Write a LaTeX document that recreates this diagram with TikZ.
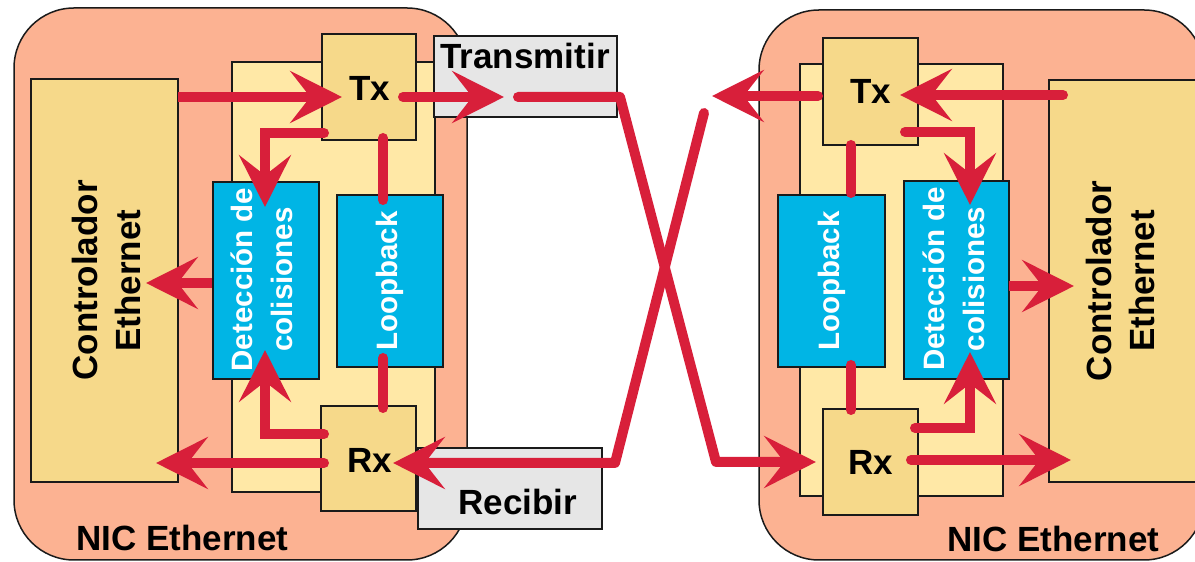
\documentclass[tikz,border=0pt]{standalone}
\usepackage{fontspec}
\setmainfont{Liberation Sans}
\usetikzlibrary{arrows.meta,fit,calc}
\definecolor{nicfill}{HTML}{FCB292}
\definecolor{ctrlfill}{HTML}{F6D98A}
\definecolor{innerfill}{HTML}{FFE8A6}
\definecolor{bluefill}{HTML}{00B5E5}
\definecolor{grayfill}{HTML}{E6E6E6}
\definecolor{myred}{HTML}{D81F3A}
\definecolor{edge}{HTML}{1A1A1A}
\tikzset{
  frame/.style={draw=edge, line width=0.9pt, inner sep=0pt, outer sep=0pt},
  nicbox/.style={frame, fill=nicfill, rounded corners=36pt},
  ctrlbox/.style={frame, fill=ctrlfill},
  innerbox/.style={frame, fill=innerfill},
  blockbox/.style={frame, fill=ctrlfill},
  bluebox/.style={frame, fill=bluefill},
  graybox/.style={frame, fill=grayfill},
  bigtxt/.style={font=\fontsize{21}{26}\selectfont\bfseries, align=center, inner sep=0pt},
  smalltxt/.style={font=\fontsize{17.7}{24}\selectfont\bfseries, text=white, align=center, inner sep=0pt},
  redline/.style={draw=myred, line width=6pt, line cap=round, line join=miter},
  redarr/.style={redline, -{Stealth[length=31pt,width=31pt,inset=12pt]}},
}
\begin{document}
\begin{tikzpicture}[x=0.6pt,y=-0.6pt]
\useasboundingbox (0,0) rectangle (1195,562);
\clip (0,0) rectangle (1195,562);
% NICs
\node[nicbox, fit={(14,8) (467,560)}] (nicL) {};
\node[nicbox, fit={(759,10) (1204,560)}] (nicR) {};
% controllers
\node[ctrlbox, fit={(31,79) (178,482)}] (ctrlL) {};
\node[ctrlbox, fit={(1049,80) (1198,482)}] (ctrlR) {};
% inner boxes
\node[innerbox, fit={(232,62) (435,492)}] (innerL) {};
\node[innerbox, fit={(800,64) (1003,496)}] (innerR) {};
% Tx / Rx
\node[blockbox, fit={(322,34) (416,140)}] (txL) {};
\node[blockbox, fit={(321,406) (416,511)}] (rxL) {};
\node[blockbox, fit={(823,38) (918,145)}] (txR) {};
\node[blockbox, fit={(823,409) (918,515)}] (rxR) {};
% blue blocks
\node[bluebox, fit={(213,182) (319,379)}] (detL) {};
\node[bluebox, fit={(337,195) (443,367)}] (loopL) {};
\node[bluebox, fit={(778,195) (885,367)}] (loopR) {};
\node[bluebox, fit={(904,181) (1009,379)}] (detR) {};
% gray labels
\node[graybox, fit={(434,36) (617,117)}] (trans) {};
\node[graybox, fit={(418,448) (602,529)}] (recib) {};
% texts
\node[bigtxt] (txLt) at ($(txL.center)+(1,1)$) {Tx};
\node[bigtxt] (rxLt) at ($(rxL.center)+(1,1.5)$) {Rx};
\node[bigtxt] (txRt) at ($(txR.center)+(0,0)$) {Tx};
\node[bigtxt] (rxRt) at ($(rxR.center)+(0.5,0)$) {Rx};
\node[bigtxt, rotate=90] (ctrlLt) at ($(ctrlL.center)+(2,0)$) {Controlador\\Ethernet};
\node[bigtxt, rotate=90] (ctrlRt) at ($(ctrlR.center)+(-3,0)$) {Controlador\\Ethernet};
\node[smalltxt, rotate=90] (detLt) at ($(detL.center)+(-4,-1)$) {Detección de\\colisiones};
\node[smalltxt, rotate=90] (detRt) at ($(detR.center)+(-3,-1)$) {Detección de\\colisiones};
\node[smalltxt, rotate=90] (loopLt) at (loopL.center) {Loopback};
\node[smalltxt, rotate=90] (loopRt) at (loopR.center) {Loopback};
\node[bigtxt, anchor=center] (transt) at ($(trans.north)+(-0.5,20)$) {Transmitir};
\node[bigtxt, anchor=center] (recibt) at ($(recib.center)+(8,13)$) {Recibir};
\node[bigtxt] (nicLt) at (182.5,538) {NIC Ethernet};
\node[bigtxt] (nicRt) at (1053.5,538.5) {NIC Ethernet};
% left side connectors
\draw[redarr, line cap=butt] ($(ctrlL.north east)+(0,18)$) -- ($(txL.north west)+(20,63)$);
\draw[redarr] ($(txL.north east)+(-13,63)$) -- ($(trans.north west)+(70,61)$);
\draw[redarr] ($(txL.south west)+(2,-7)$) -| ($(detL.north)+(-1,25)$);
\draw[redline] ($(txL.south)+(14,-2)$) -- ($(loopL.north)+(-7,5)$);
\draw[redline] ($(loopL.south)+(-7,-9)$) -- ($(rxL.north)+(14.5,2)$);
\draw[redarr] ($(rxL.north west)+(3,28)$) -| ($(detL.south)+(-1,-29)$);
\draw[redarr] ($(rxL.north west)+(3,57)$) -- ($(ctrlL.south east)+(-22,-19)$);
\draw[redarr, line cap=butt] ($(detL.west)+(-1,2.5)$) -- ($(ctrlL.north east)+(-32,204)$);
% crossing cable
\draw[redarr, line join=round] ($(trans.north west)+(84,61)$) -- ($(trans.north east)+(3,61)$)
  -- ($(rxR.west)+(-107,0)$) -- ($(rxR.west)+(-7,0)$);
\draw[redarr, line join=round] ($(txR.north west)+(-119,75)$) -- ($(recib.north east)+(13,15)$)
  -- ($(rxL.north east)+(-23,57)$);
% right side connectors
\draw[redarr] ($(ctrlR.north west)+(14,15)$) -- ($(txR.north east)+(-18,57)$);
\draw[redarr] ($(txR.north west)+(-5,58)$) -- ($(txR.north west)+(-111,58)$);
\draw[redarr] ($(txR.south east)+(-13,-13)$) -| ($(detR.north)+(13.5,24)$);
\draw[redline] ($(txR.south west)+(28,0)$) -- ($(loopR.north)+(19.5,-2)$);
\draw[redline] ($(loopR.south)+(19.5,-2)$) -- ($(rxR.north west)+(28,1)$);
\draw[redarr] ($(rxR.north east)+(-3,19)$) -| ($(detR.south)+(13.5,-27)$);
\draw[redarr] ($(rxR.north east)+(-7,51)$) -- ($(ctrlR.south west)+(22,-22)$);
\draw[redarr, line cap=butt] ($(detR.east)+(0,6)$) -- ($(ctrlR.north west)+(25,206)$);
\end{tikzpicture}
\end{document}
